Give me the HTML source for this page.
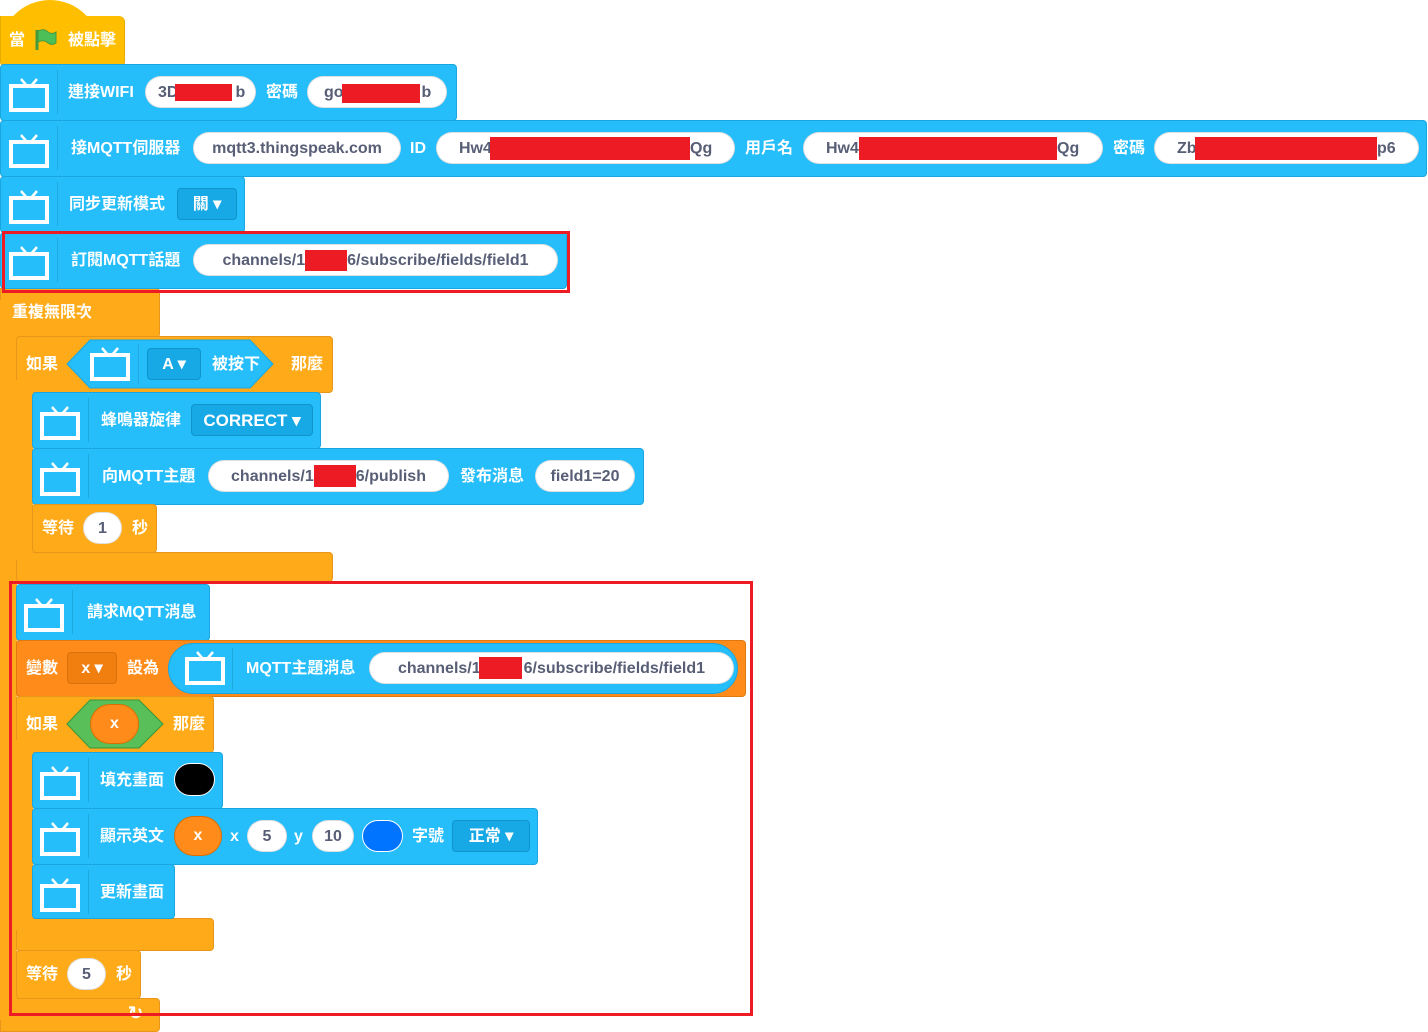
<!DOCTYPE html>
<html><head><meta charset="utf-8"><style>
body{margin:0;width:1428px;height:1032px;background:#fff;position:relative;overflow:hidden;font-family:"Liberation Sans","Noto Sans CJK TC",sans-serif;font-weight:bold;}
div,span{position:absolute;box-sizing:border-box;}
.b{background:#25BDFA;border:1px solid #1aa6e0;border-radius:4px;}
.o{background:#FFAB19;border:1px solid #e8961a;border-radius:4px;}
.arm{background:#FFAB19;border:none;}
.v{background:#FF8C1A;border:1px solid #e07a10;border-radius:4px;}
.t{color:#fff;font-size:16px;line-height:20px;white-space:nowrap;margin-top:1px;}
.p{background:#fff;border:1px solid rgba(0,0,0,.12);border-radius:17px;height:32px;color:#575E75;font-size:16px;line-height:31px;text-align:center;white-space:nowrap;overflow:hidden;}
.r{background:#ED1C24;}
.dd{background:#17a8e6;border:1px solid #1193cc;border-radius:4px;height:32px;color:#fff;font-size:16px;line-height:31px;text-align:center;}
.sep{width:1px;background:#1fa8e2;}
.box{border:3px solid #ED1C24;}
</style></head><body>
<svg width="0" height="0" style="position:absolute"><defs><g id="tv"><rect x="2" y="9" width="36" height="24" fill="none" stroke="#fff" stroke-width="4"/><line x1="12" y1="2" x2="18" y2="9" stroke="#fff" stroke-width="2.5"/><line x1="28" y1="2" x2="22" y2="9" stroke="#fff" stroke-width="2.5"/></g></defs></svg>

<!-- repeat forever -->
<div class="o" style="left:0;top:288px;width:160px;height:50px;border-radius:0 4px 4px 0"></div>
<div class="o" style="left:0;top:998px;width:160px;height:34px;border-radius:0 4px 4px 0"></div>
<div class="arm" style="left:0;top:300px;width:17px;height:720px"></div>
<span class="t" style="left:12px;top:302px">重複無限次</span>
<span class="t" style="left:128px;top:1002px;font-size:18px">↻</span>

<!-- hat -->
<div style="left:0;top:0;width:100px;height:60px;background:#FFBF00;border-radius:50px 50px 0 0"></div>
<div style="left:0;top:16px;width:125px;height:50px;background:#FFBF00;border:1px solid #e6ac00;border-radius:0 6px 4px 4px;border-top:none"></div>
<span class="t" style="left:9px;top:30px">當</span>
<svg style="position:absolute;left:34px;top:28px" width="24" height="24"><line x1="3" y1="2" x2="3" y2="22" stroke="#45993d" stroke-width="3"/><path d="M4 3 Q10 0 14 4 Q18 7 22 4 L22 15 Q18 18 14 15 Q10 11 4 14Z" fill="#4cbf56" stroke="#45993d"/></svg>
<span class="t" style="left:68px;top:30px">被點擊</span>

<!-- wifi -->
<div class="b" style="left:0;top:64px;width:457px;height:57px"></div>
<svg style="position:absolute;left:9px;top:77px" width="40" height="36"><use href="#tv"/></svg>
<div class="sep" style="left:57px;top:70px;height:44px"></div>
<span class="t" style="left:68px;top:82px">連接WIFI</span>
<div class="p" style="left:145px;top:76px;width:111px;text-align:left;padding-left:12px">3D<span style="position:static;display:inline-block;width:57px"></span>b</div>
<div class="r" style="left:175px;top:84px;width:57px;height:17px"></div>
<span class="t" style="left:266px;top:82px">密碼</span>
<div class="p" style="left:307px;top:76px;width:140px;text-align:left;padding-left:16px">go<span style="position:static;display:inline-block;width:78px"></span>b</div>
<div class="r" style="left:342px;top:84px;width:78px;height:19px"></div>

<!-- mqtt server -->
<div class="b" style="left:0;top:120px;width:1427px;height:57px"></div>
<svg style="position:absolute;left:9px;top:133px" width="40" height="36"><use href="#tv"/></svg>
<div class="sep" style="left:57px;top:126px;height:44px"></div>
<span class="t" style="left:71px;top:138px">接MQTT伺服器</span>
<div class="p" style="left:193px;top:132px;width:208px">mqtt3.thingspeak.com</div>
<span class="t" style="left:410px;top:138px">ID</span>
<div class="p" style="left:436px;top:132px;width:299px;text-align:left;padding-left:22px">Hw4</div>
<span class="p" style="left:690px;top:133px;border:none;background:none;width:30px;text-align:left">Qg</span>
<div class="r" style="left:490px;top:137px;width:200px;height:23px"></div>
<span class="t" style="left:745px;top:138px">用戶名</span>
<div class="p" style="left:803px;top:132px;width:300px;text-align:left;padding-left:22px">Hw4</div>
<span class="p" style="left:1057px;top:133px;border:none;background:none;width:30px;text-align:left">Qg</span>
<div class="r" style="left:859px;top:137px;width:198px;height:23px"></div>
<span class="t" style="left:1113px;top:138px">密碼</span>
<div class="p" style="left:1154px;top:132px;width:265px;text-align:left;padding-left:22px">Zb</div>
<span class="p" style="left:1377px;top:133px;border:none;background:none;width:30px;text-align:left">p6</span>
<div class="r" style="left:1195px;top:137px;width:182px;height:23px"></div>

<!-- sync -->
<div class="b" style="left:0;top:176px;width:245px;height:57px"></div>
<svg style="position:absolute;left:9px;top:189px" width="40" height="36"><use href="#tv"/></svg>
<div class="sep" style="left:57px;top:182px;height:44px"></div>
<span class="t" style="left:69px;top:194px">同步更新模式</span>
<div class="dd" style="left:177px;top:188px;width:60px">關 ▾</div>

<!-- subscribe -->
<div class="b" style="left:0;top:232px;width:567px;height:57px"></div>
<svg style="position:absolute;left:9px;top:245px" width="40" height="36"><use href="#tv"/></svg>
<div class="sep" style="left:57px;top:238px;height:44px"></div>
<span class="t" style="left:71px;top:250px">訂閱MQTT話題</span>
<div class="p" style="left:193px;top:244px;width:365px">channels/1<span style="position:static;display:inline-block;width:42px"></span>6/subscribe/fields/field1</div>
<div class="r" style="left:305px;top:250px;width:42px;height:21px"></div>
<div class="box" style="left:2px;top:231px;width:568px;height:62px"></div>

<!-- if 1 -->
<div class="o" style="left:16px;top:336px;width:317px;height:57px"></div>
<div class="o" style="left:16px;top:552px;width:317px;height:30px"></div>
<div class="arm" style="left:16px;top:380px;width:17px;height:180px"></div>
<span class="t" style="left:26px;top:354px">如果</span>
<svg style="position:absolute;left:66px;top:339px" width="208" height="50"><polygon points="24,1 184,1 207,25 184,49 24,49 1,25" fill="#25BDFA" stroke="#1aa6e0"/></svg>
<svg style="position:absolute;left:90px;top:346px" width="40" height="36"><use href="#tv"/></svg>
<div class="sep" style="left:138px;top:344px;height:40px"></div>
<div class="dd" style="left:147px;top:348px;width:54px">A ▾</div>
<span class="t" style="left:212px;top:354px">被按下</span>
<span class="t" style="left:291px;top:354px">那麼</span>

<!-- buzzer -->
<div class="b" style="left:32px;top:392px;width:289px;height:57px"></div>
<svg style="position:absolute;left:40px;top:405px" width="40" height="36"><use href="#tv"/></svg>
<div class="sep" style="left:88px;top:398px;height:44px"></div>
<span class="t" style="left:101px;top:410px">蜂鳴器旋律</span>
<div class="dd" style="left:191px;top:404px;width:122px;font-size:17px">CORRECT ▾</div>

<!-- publish -->
<div class="b" style="left:32px;top:448px;width:612px;height:57px"></div>
<svg style="position:absolute;left:40px;top:461px" width="40" height="36"><use href="#tv"/></svg>
<div class="sep" style="left:88px;top:454px;height:44px"></div>
<span class="t" style="left:102px;top:466px">向MQTT主題</span>
<div class="p" style="left:208px;top:460px;width:241px">channels/1<span style="position:static;display:inline-block;width:42px"></span>6/publish</div>
<div class="r" style="left:314px;top:465px;width:42px;height:22px"></div>
<span class="t" style="left:460px;top:466px">發布消息</span>
<div class="p" style="left:535px;top:460px;width:100px">field1=20</div>

<!-- wait 1 -->
<div class="o" style="left:32px;top:504px;width:125px;height:49px"></div>
<span class="t" style="left:42px;top:518px">等待</span>
<div class="p" style="left:83px;top:512px;width:39px">1</div>
<span class="t" style="left:132px;top:518px">秒</span>

<!-- request -->
<div class="b" style="left:16px;top:584px;width:194px;height:57px"></div>
<svg style="position:absolute;left:24px;top:597px" width="40" height="36"><use href="#tv"/></svg>
<div class="sep" style="left:72px;top:590px;height:44px"></div>
<span class="t" style="left:87px;top:602px">請求MQTT消息</span>

<!-- set variable -->
<div class="v" style="left:16px;top:640px;width:730px;height:57px"></div>
<span class="t" style="left:26px;top:658px">變數</span>
<div class="dd" style="left:67px;top:652px;width:50px;background:#f07f10;border-color:#d9720d">x ▾</div>
<span class="t" style="left:127px;top:658px">設為</span>
<div style="left:168px;top:643px;width:570px;height:51px;background:#25BDFA;border:1px solid #1aa6e0;border-radius:26px"></div>
<svg style="position:absolute;left:185px;top:650px" width="40" height="36"><use href="#tv"/></svg>
<div class="sep" style="left:232px;top:648px;height:42px"></div>
<span class="t" style="left:246px;top:658px">MQTT主題消息</span>
<div class="p" style="left:369px;top:652px;width:365px">channels/1<span style="position:static;display:inline-block;width:43px"></span>6/subscribe/fields/field1</div>
<div class="r" style="left:479px;top:657px;width:43px;height:22px"></div>

<!-- if 2 -->
<div class="o" style="left:16px;top:696px;width:198px;height:57px"></div>
<div class="o" style="left:16px;top:918px;width:198px;height:33px"></div>
<div class="arm" style="left:16px;top:740px;width:17px;height:190px"></div>
<span class="t" style="left:26px;top:714px">如果</span>
<svg style="position:absolute;left:66px;top:699px" width="98" height="50"><polygon points="24,1 73,1 97,25 73,49 24,49 1,25" fill="#59C059" stroke="#389438"/></svg>
<div style="left:90px;top:704px;width:49px;height:40px;background:#FF8C1A;border:1px solid #db6e00;border-radius:20px;color:#fff;font-size:16px;line-height:38px;text-align:center">x</div>
<span class="t" style="left:173px;top:714px">那麼</span>

<!-- fill -->
<div class="b" style="left:32px;top:752px;width:191px;height:57px"></div>
<svg style="position:absolute;left:40px;top:765px" width="40" height="36"><use href="#tv"/></svg>
<div class="sep" style="left:88px;top:758px;height:44px"></div>
<span class="t" style="left:100px;top:770px">填充畫面</span>
<div style="left:174px;top:763px;width:41px;height:33px;background:#000;border:1px solid #fff;border-radius:17px"></div>

<!-- display -->
<div class="b" style="left:32px;top:808px;width:506px;height:57px"></div>
<svg style="position:absolute;left:40px;top:821px" width="40" height="36"><use href="#tv"/></svg>
<div class="sep" style="left:88px;top:814px;height:44px"></div>
<span class="t" style="left:100px;top:826px">顯示英文</span>
<div style="left:174px;top:816px;width:48px;height:40px;background:#FF8C1A;border:1px solid #db6e00;border-radius:20px;color:#fff;font-size:16px;line-height:38px;text-align:center">x</div>
<span class="t" style="left:230px;top:826px">x</span>
<div class="p" style="left:247px;top:820px;width:40px">5</div>
<span class="t" style="left:294px;top:826px">y</span>
<div class="p" style="left:312px;top:820px;width:42px">10</div>
<div style="left:362px;top:820px;width:41px;height:32px;background:#0073ff;border:1px solid #fff;border-radius:16px"></div>
<span class="t" style="left:412px;top:826px">字號</span>
<div class="dd" style="left:452px;top:820px;width:78px">正常 ▾</div>

<!-- update -->
<div class="b" style="left:32px;top:864px;width:143px;height:55px"></div>
<svg style="position:absolute;left:40px;top:877px" width="40" height="36"><use href="#tv"/></svg>
<div class="sep" style="left:88px;top:870px;height:44px"></div>
<span class="t" style="left:100px;top:882px">更新畫面</span>

<!-- wait 5 -->
<div class="o" style="left:16px;top:950px;width:125px;height:49px"></div>
<span class="t" style="left:26px;top:964px">等待</span>
<div class="p" style="left:67px;top:958px;width:39px">5</div>
<span class="t" style="left:116px;top:964px">秒</span>

<div class="box" style="left:9px;top:581px;width:744px;height:435px"></div>
</body></html>
